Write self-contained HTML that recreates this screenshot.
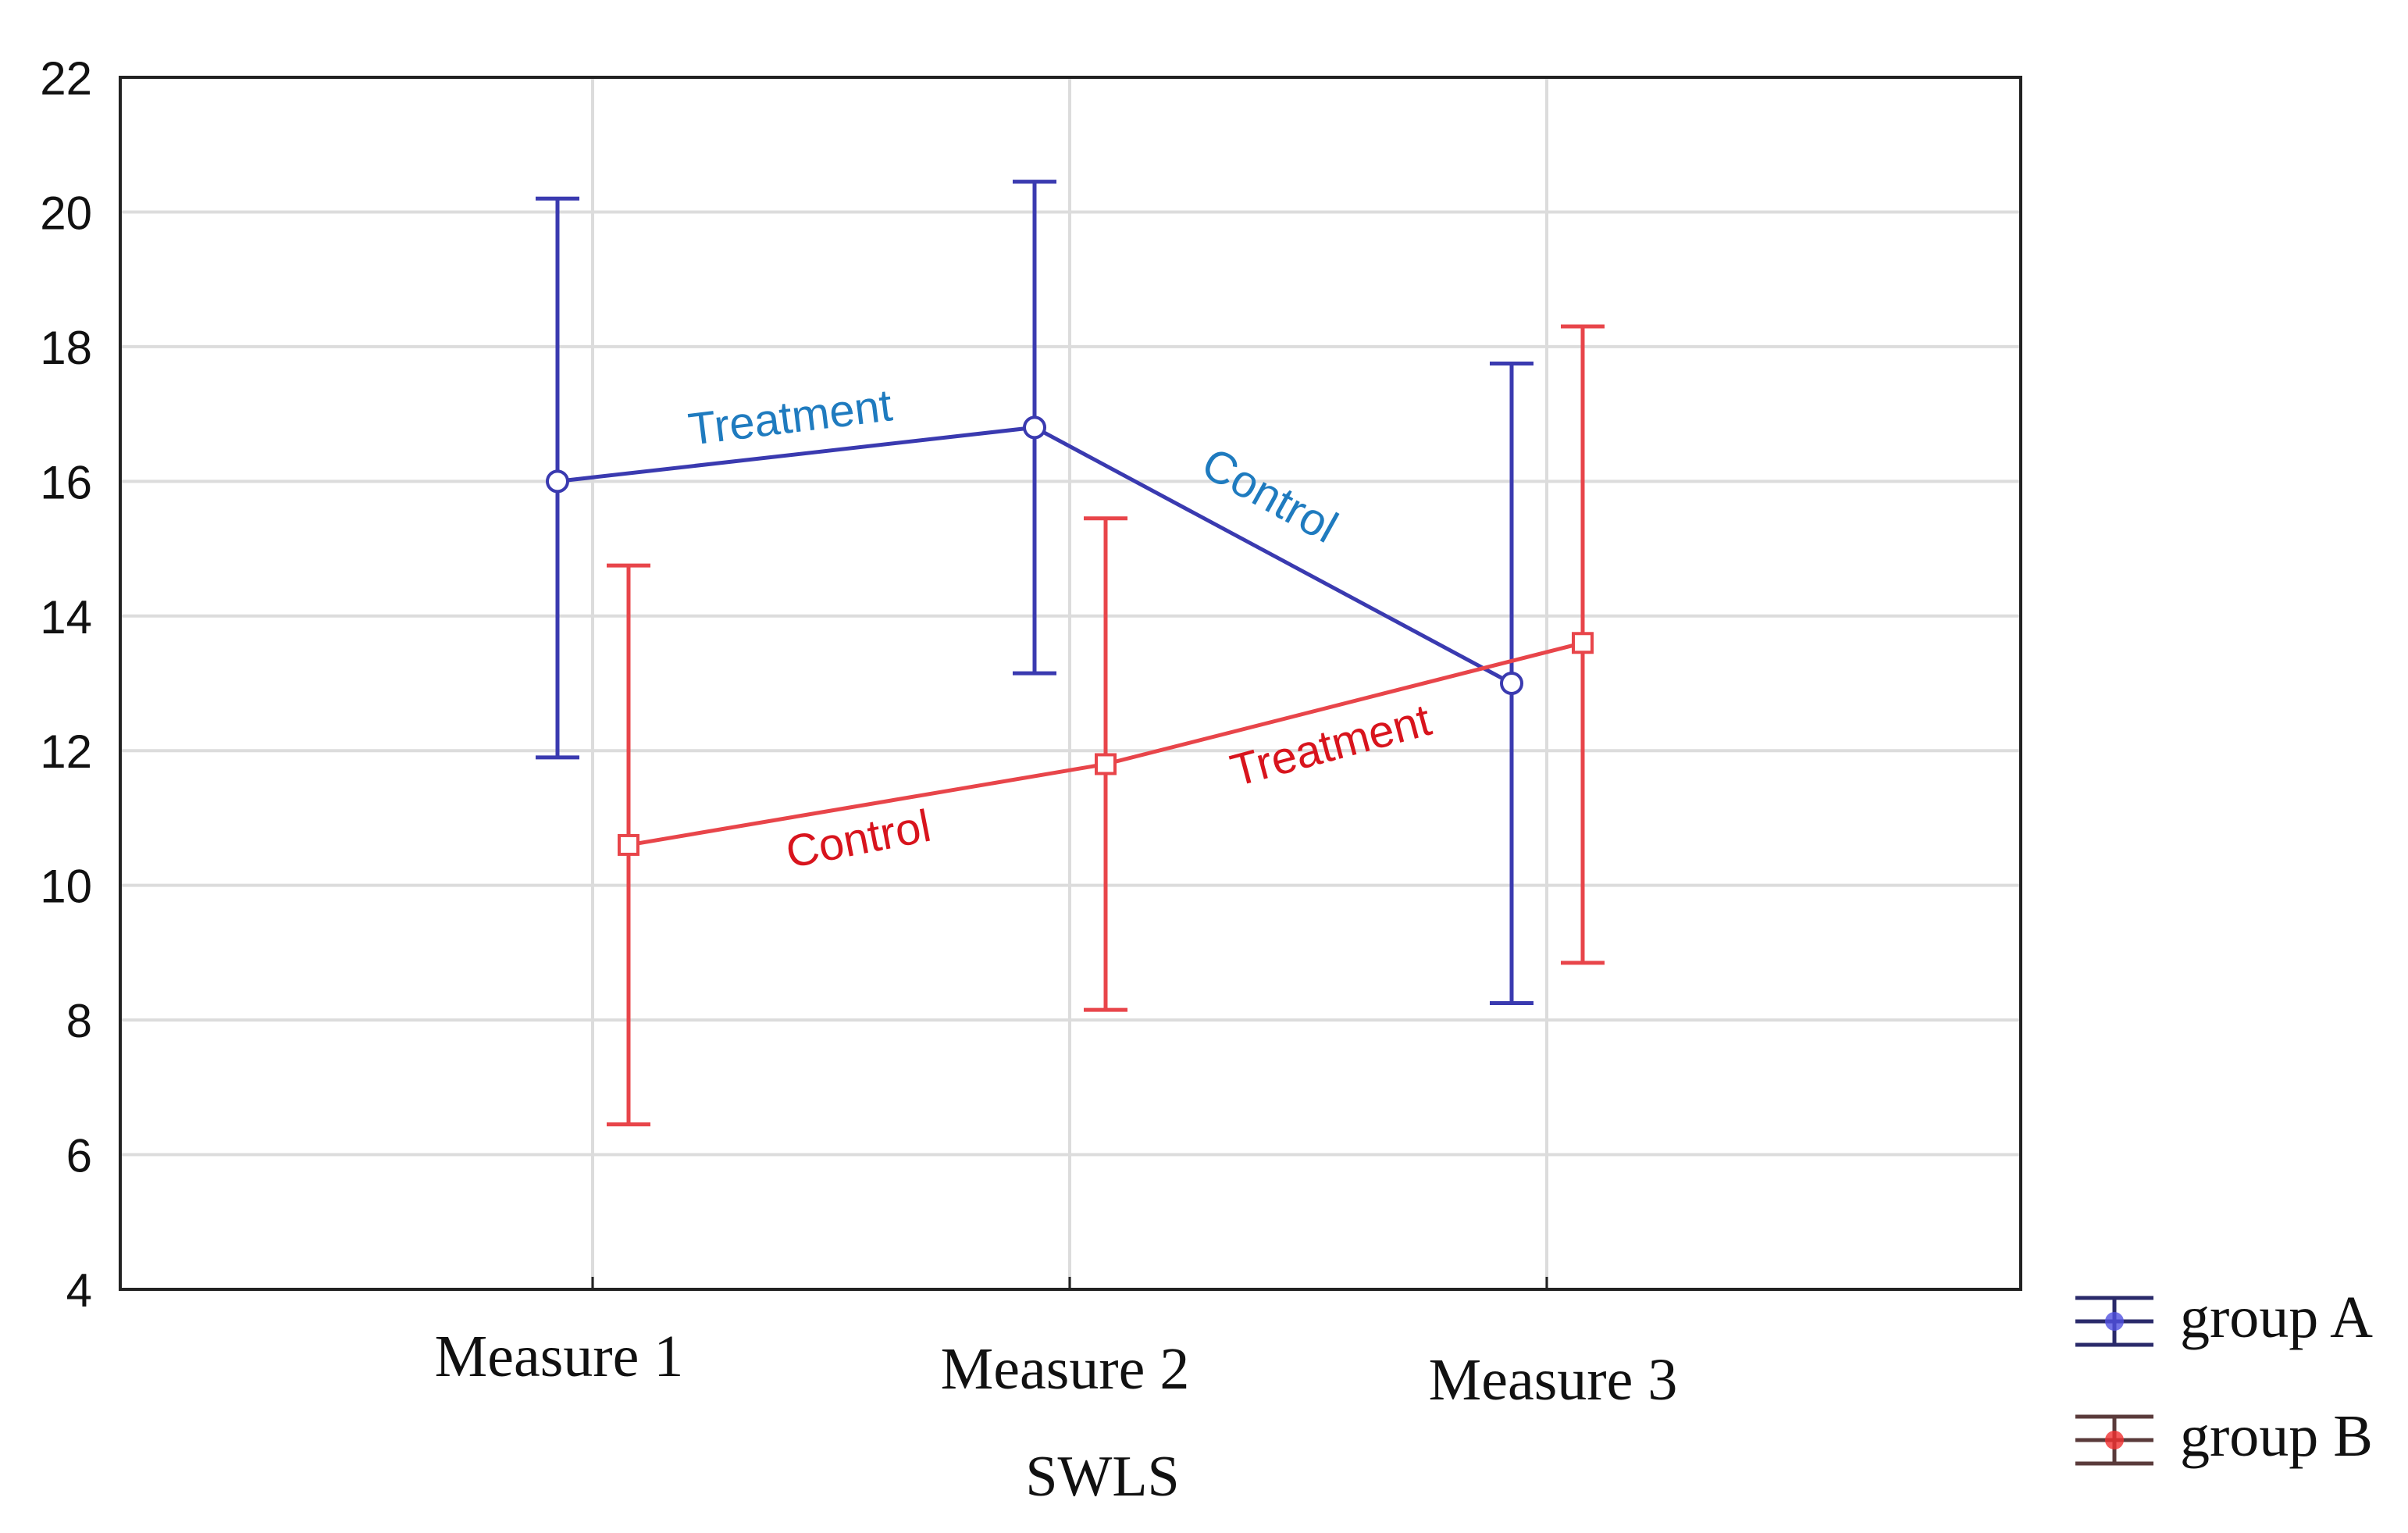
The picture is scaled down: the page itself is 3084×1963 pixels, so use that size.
<!DOCTYPE html>
<html><head><meta charset="utf-8"><style>
html,body{margin:0;padding:0;background:#fff;}
svg{display:block;}
</style></head><body>
<svg id="chart" width="3084" height="1963" viewBox="0 0 3084 1963" xmlns="http://www.w3.org/2000/svg">
<g id="grid"></g>
<g id="series"></g>
<rect x="154" y="99" width="2434" height="1552" fill="none" stroke="#222" stroke-width="4"/>
<g id="yticks"></g>
<g id="xticks"></g>
<text x="1412" y="1915" font-family="Liberation Serif, serif" font-size="74" text-anchor="middle" fill="#111">SWLS</text>
<text x="1012" y="554" transform="rotate(-7 1012 534)" font-family="Liberation Sans, sans-serif" font-size="58" text-anchor="middle" fill="#1f7bbf">Treatment</text>
<text x="1627" y="654" transform="rotate(29 1627 633)" font-family="Liberation Sans, sans-serif" font-size="58" text-anchor="middle" fill="#1f7bbf">Control</text>
<text x="1099" y="1094" transform="rotate(-11 1099 1073)" font-family="Liberation Sans, sans-serif" font-size="58" text-anchor="middle" fill="#d8141d">Control</text>
<text x="1704" y="974" transform="rotate(-15 1704 953)" font-family="Liberation Sans, sans-serif" font-size="58" text-anchor="middle" fill="#d8141d">Treatment</text>
<g>
 <g>
  <line x1="2658" y1="1662" x2="2758" y2="1662" stroke="#2a2a6a" stroke-width="5"/>
  <line x1="2658" y1="1692" x2="2758" y2="1692" stroke="#2a2a6a" stroke-width="5"/>
  <line x1="2658" y1="1722" x2="2758" y2="1722" stroke="#2a2a6a" stroke-width="5"/>
  <line x1="2708" y1="1662" x2="2708" y2="1722" stroke="#2a2a6a" stroke-width="5"/>
  <circle cx="2708" cy="1692" r="12" fill="#5050e0" opacity="0.8"/>
  <text x="2792" y="1712" font-family="Liberation Serif, serif" font-size="76" fill="#111">group A</text>
 </g>
 <g>
  <line x1="2658" y1="1814" x2="2758" y2="1814" stroke="#5a3a3a" stroke-width="5"/>
  <line x1="2658" y1="1844" x2="2758" y2="1844" stroke="#5a3a3a" stroke-width="5"/>
  <line x1="2658" y1="1874" x2="2758" y2="1874" stroke="#5a3a3a" stroke-width="5"/>
  <line x1="2708" y1="1814" x2="2708" y2="1874" stroke="#5a3a3a" stroke-width="5"/>
  <circle cx="2708" cy="1844" r="12" fill="#f03030" opacity="0.8"/>
  <text x="2792" y="1864" font-family="Liberation Serif, serif" font-size="76" fill="#111">group B</text>
 </g>
</g>
</svg>
<script>
const categories = ["Measure 1", "Measure 2", "Measure 3"];
const yTicks = [4, 6, 8, 10, 12, 14, 16, 18, 20, 22];
const groupAMean = [16.0, 16.8, 13.0];
const groupAUpper = [20.2, 20.45, 17.75];
const groupALower = [11.9, 13.15, 8.25];
const groupBMean = [10.6, 11.8, 13.6];
const groupBUpper = [14.75, 15.45, 18.3];
const groupBLower = [6.45, 8.15, 8.85];

const NS = "http://www.w3.org/2000/svg";
const plotTop = 99, plotBottom = 1651, yMin = 4, yMax = 22;
function yScale(v){ return plotBottom - (v - yMin) / (yMax - yMin) * (plotBottom - plotTop); }
const catX0 = 759, catStep = 611;
function xScale(i){ return catX0 + i * catStep; }
function mk(tag, attrs, parent){
  const el = document.createElementNS(NS, tag);
  for (const k in attrs) el.setAttribute(k, attrs[k]);
  parent.appendChild(el);
  return el;
}
const grid = document.getElementById("grid");
const yt = document.getElementById("yticks");
const xt = document.getElementById("xticks");
const series = document.getElementById("series");

yTicks.forEach(v => {
  const y = yScale(v);
  if (v > yMin && v < yMax) {
    const g = mk("line", {x1:154, x2:2588, y1:y, y2:y, stroke:"#dcdcdc", "stroke-width":4}, grid);
    
    
  }
  const t = mk("text", {x:118, y:y+22, "text-anchor":"end", "font-family":"Liberation Sans, sans-serif", "font-size":60, fill:"#111"}, yt);
  t.textContent = v;
  
  
});
const labelDy = [1762, 1778, 1792];
const labelDx = [-43, -6, 8];
categories.forEach((c, i) => {
  const x = xScale(i);
  const g = mk("line", {x1:x, x2:x, y1:plotTop, y2:plotBottom, stroke:"#dcdcdc", "stroke-width":4}, grid);
  
  
  const tk = mk("line", {x1:x, x2:x, y1:plotBottom-16, y2:plotBottom, stroke:"#222", "stroke-width":3}, xt);
  
  
  const t = mk("text", {x:x+labelDx[i], y:labelDy[i], "text-anchor":"middle", "font-family":"Liberation Serif, serif", "font-size":76, fill:"#111"}, xt);
  t.textContent = c;
  
  
});

function drawSeries(mean, up, lo, offset, color, shape, name){
  const g = mk("g", {}, series);
  
  
  const pts = mean.map((v, i) => [xScale(i) + offset, yScale(v)]);
  const pl = mk("polyline", {points: pts.map(p => p.join(",")).join(" "), fill:"none", stroke:color, "stroke-width":5}, g);
  
  
  mean.forEach((v, i) => {
    const x = xScale(i) + offset, yu = yScale(up[i]), yl = yScale(lo[i]);
    const eb = mk("path", {d:`M${x},${yu}V${yl}M${x-28},${yu}H${x+28}M${x-28},${yl}H${x+28}`, stroke:color, "stroke-width":5, fill:"none"}, g);
    
    
    let m;
    if (shape === "circle") m = mk("circle", {cx:x, cy:yScale(v), r:13, fill:"#fff", stroke:color, "stroke-width":4}, g);
    else m = mk("rect", {x:x-12, y:yScale(v)-12, width:24, height:24, fill:"#fff", stroke:color, "stroke-width":4}, g);
    
    
  });
}
drawSeries(groupAMean, groupAUpper, groupALower, -45, "#3a3ab0", "circle", "group-a");
drawSeries(groupBMean, groupBUpper, groupBLower, 46, "#e8454a", "rect", "group-b");
</script>
</body></html>
